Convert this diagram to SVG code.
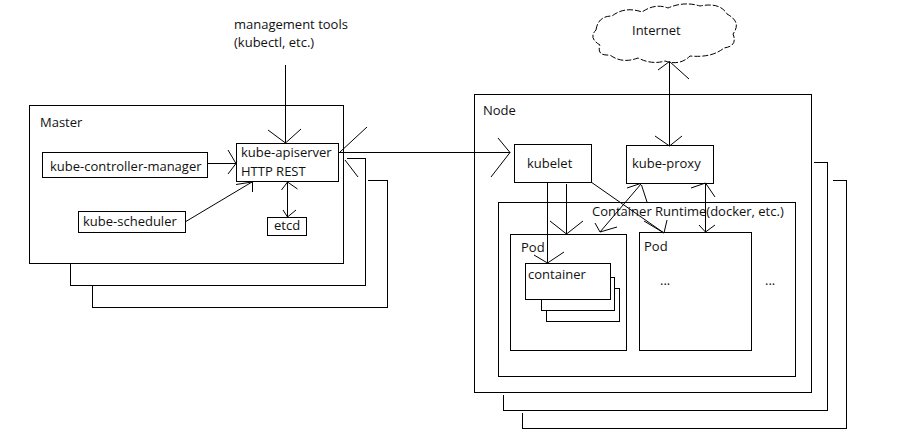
<svg xmlns="http://www.w3.org/2000/svg" width="899" height="446" viewBox="0 0 899 446">
<style>
  .b{fill:#fff;stroke:#000;stroke-width:1;shape-rendering:crispEdges}
  .s{fill:none;stroke:#000;stroke-width:1;shape-rendering:crispEdges}
  .c line,.c polyline{stroke:#000;stroke-width:1;fill:none}
  .t{font-family:"Open Sans","Noto Sans","DejaVu Sans",sans-serif;font-size:13px;fill:#111}
  .cloud{fill:#fff;stroke:#000;stroke-width:1;stroke-dasharray:6 2}
</style>
<rect width="899" height="446" fill="#fff"/>

<g id="master">
  <polyline class="s" points="368,180.5 387.5,180.5 387.5,307.5 92.5,307.5 92.5,286"/>
  <polyline class="s" points="347,158.5 365.5,158.5 365.5,285.5 70.5,285.5 70.5,264"/>
  <rect class="b" x="29.5" y="105.5" width="314" height="158"/>
  <text class="t" x="40" y="127">Master</text>
</g>

<g id="kube-controller-manager">
  <rect class="b" x="42.5" y="152.5" width="165" height="25"/>
  <text class="t" x="50" y="171">kube-controller-manager</text>
</g>

<g id="kube-apiserver">
  <rect class="b" x="236.5" y="143.5" width="102" height="38"/>
  <text class="t" x="241" y="157">kube-apiserver</text>
  <text class="t" x="241" y="176">HTTP REST</text>
</g>

<g id="kube-scheduler">
  <rect class="b" x="78.5" y="211.5" width="107" height="21"/>
  <text class="t" x="83" y="226">kube-scheduler</text>
</g>

<g id="etcd">
  <rect class="b" x="267.5" y="217.5" width="39" height="18"/>
  <text class="t" x="274" y="230">etcd</text>
</g>

<g id="management-tools">
  <text class="t" x="234" y="29">management tools</text>
  <text class="t" x="234" y="47">(kubectl, etc.)</text>
</g>

<g id="internet">
  <path class="cloud" d="M596,30 Q598,16 612,16 Q625,6 642,12 Q655,3 668,8 Q684,1 700,6 Q720,2 727,14 Q742,22 733,34 Q738,46 724,48 Q712,58 690,56 Q680,66 665,61 Q652,65 638,58 Q622,64 610,55 Q596,56 600,45 Q588,38 596,30 Z"/>
  <text class="t" x="632" y="35">Internet</text>
</g>

<g id="node">
  <polyline class="s" points="833,180.5 846.5,180.5 846.5,428.5 522.5,428.5 522.5,413"/>
  <polyline class="s" points="814,162.5 827.5,162.5 827.5,410.5 503.5,410.5 503.5,395"/>
  <rect class="b" x="474.5" y="94.5" width="337" height="298"/>
  <text class="t" x="483" y="115">Node</text>
</g>

<g id="kubelet">
  <rect class="b" x="514.5" y="144.5" width="77" height="38"/>
  <text class="t" x="527" y="168">kubelet</text>
</g>

<g id="kube-proxy">
  <rect class="b" x="626.5" y="145.5" width="87" height="38"/>
  <text class="t" x="632" y="168">kube-proxy</text>
</g>

<g id="container-runtime">
  <rect class="b" x="498.5" y="202.5" width="297" height="174"/>
  <text class="t" x="765" y="285">...</text>
</g>

<g id="pod1">
  <rect class="b" x="510.5" y="234.5" width="116" height="116"/>
  <text class="t" x="521" y="252">Pod</text>
</g>

<g id="container">
  <polyline class="s" points="615,288.5 619.5,288.5 619.5,321.5 546.5,321.5 546.5,311"/>
  <polyline class="s" points="611,277.5 614.5,277.5 614.5,310.5 541.5,310.5 541.5,300"/>
  <rect class="b" x="525.5" y="263.5" width="85" height="36"/>
  <text class="t" x="528" y="279">container</text>
</g>

<g id="pod2">
  <rect class="b" x="639.5" y="232.5" width="112" height="118"/>
  <text class="t" x="644" y="251">Pod</text>
  <text class="t" x="660" y="285">...</text>
</g>

<g id="runtime-label">
  <text class="t" x="592" y="216">Container Runtime(docker, etc.)</text>
</g>

<g id="connectors" class="c">
  <!-- management tools -> apiserver -->
  <line x1="285.5" y1="65" x2="285.5" y2="143"/>
  <line x1="268" y1="130" x2="285.5" y2="143"/>
  <line x1="301" y1="129" x2="285.5" y2="143"/>
  <!-- controller-manager -> apiserver -->
  <line x1="207" y1="163.5" x2="236" y2="163.5"/>
  <line x1="228" y1="150" x2="236" y2="163.5"/>
  <line x1="228" y1="174" x2="236" y2="163.5"/>
  <!-- scheduler -> apiserver -->
  <line x1="185" y1="222" x2="252" y2="182"/>
  <line x1="236" y1="184.5" x2="252" y2="182"/>
  <line x1="252.5" y1="192" x2="252.5" y2="182"/>
  <!-- apiserver <-> etcd -->
  <line x1="287.5" y1="181" x2="287.5" y2="218"/>
  <line x1="281.5" y1="190" x2="287.5" y2="182"/>
  <line x1="297.5" y1="189" x2="287.5" y2="182"/>
  <line x1="283" y1="210" x2="287.5" y2="217"/>
  <line x1="296" y1="210" x2="287.5" y2="217"/>
  <!-- apiserver <-> kubelet -->
  <line x1="339" y1="152.5" x2="510" y2="152.5"/>
  <line x1="367" y1="127" x2="340" y2="152"/>
  <line x1="345" y1="160" x2="358" y2="177"/>
  <line x1="498" y1="138" x2="510" y2="152.5"/>
  <line x1="491" y1="177" x2="510" y2="152.5"/>
  <!-- internet <-> kube-proxy -->
  <line x1="669.5" y1="62" x2="669.5" y2="145"/>
  <line x1="658" y1="70" x2="669.5" y2="61.5"/>
  <line x1="689" y1="79" x2="669.5" y2="61.5"/>
  <line x1="655" y1="136" x2="669.5" y2="146"/>
  <line x1="682" y1="136" x2="669.5" y2="146"/>
  <!-- kubelet -> container -->
  <line x1="547.5" y1="182" x2="547.5" y2="263"/>
  <line x1="534" y1="255" x2="547.5" y2="263"/>
  <line x1="564" y1="252" x2="547.5" y2="263"/>
  <!-- kubelet -> pod1 -->
  <line x1="566.5" y1="184" x2="566.5" y2="234"/>
  <line x1="550" y1="221" x2="566.5" y2="234"/>
  <line x1="583" y1="221" x2="566.5" y2="234"/>
  <!-- kubelet -> pod2 -->
  <line x1="591" y1="182" x2="664" y2="233"/>
  <line x1="644" y1="221" x2="664" y2="233"/>
  <line x1="667" y1="220" x2="664" y2="233"/>
  <!-- kube-proxy <-> pod1 -->
  <line x1="641" y1="184" x2="600" y2="232"/>
  <line x1="627" y1="188" x2="640.5" y2="183.5"/>
  <line x1="647" y1="202" x2="641.5" y2="185"/>
  <line x1="595" y1="223" x2="600" y2="232"/>
  <line x1="617" y1="227" x2="600" y2="232"/>
  <!-- kube-proxy <-> pod2 -->
  <line x1="705.5" y1="183" x2="705.5" y2="232"/>
  <line x1="691" y1="188" x2="705.5" y2="183"/>
  <line x1="715" y1="197" x2="705.5" y2="183"/>
  <line x1="699" y1="225" x2="705.5" y2="232"/>
  <line x1="715" y1="225" x2="705.5" y2="232"/>
</g>
</svg>
